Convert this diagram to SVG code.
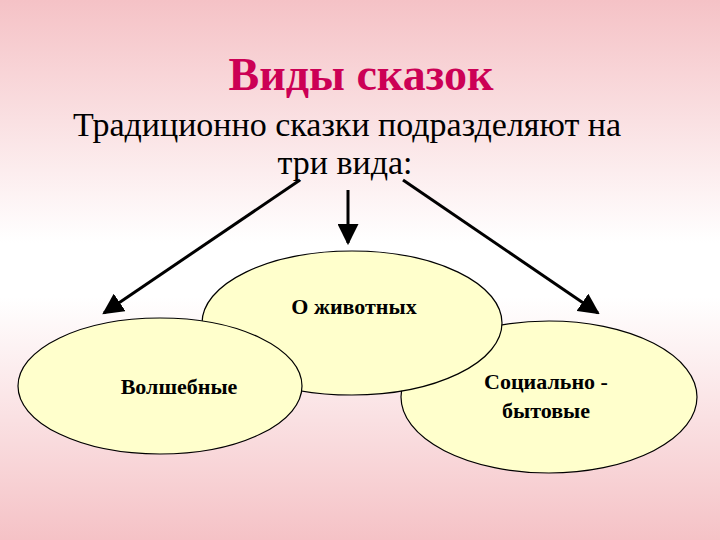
<svg xmlns="http://www.w3.org/2000/svg" width="720" height="540" viewBox="0 0 720 540">
<defs>
<linearGradient id="bg" x1="0" y1="0" x2="0" y2="1">
<stop offset="0" stop-color="#f5c2c6"/><stop offset="0.45" stop-color="#ffffff"/><stop offset="0.55" stop-color="#ffffff"/><stop offset="1" stop-color="#f5c2c6"/>
</linearGradient>
<marker id="ah" viewBox="0 0 10 10" refX="9" refY="5" markerWidth="7" markerHeight="7" orient="auto"><path d="M0,0L10,5L0,10z" fill="#000"/></marker>
<style>
.t{font-family:"Liberation Serif",serif;text-anchor:middle}
.n{fill:#ffffcc;stroke:#000;stroke-width:1.2}
.c{stroke:#000;stroke-width:3;fill:none;marker-end:url(#ah)}
</style>
</defs>
<rect width="720" height="540" fill="url(#bg)"/>
<text class="t" x="361" y="90" font-size="46" font-weight="bold" fill="#cc0055">Виды сказок</text>
<text class="t" x="347" y="136" font-size="34">Традиционно сказки подразделяют на</text>
<text class="t" x="345" y="174" font-size="34">три вида:</text>
<g id="connectors">
<line class="c" x1="300" y1="180" x2="104" y2="313"/>
<line class="c" x1="348" y1="190" x2="348" y2="243"/>
<line class="c" x1="403" y1="180" x2="598" y2="313"/>
</g>
<g id="n3"><ellipse class="n" cx="549" cy="397" rx="148" ry="76"/>
<text class="t" x="546" y="389" font-size="22" font-weight="bold">Социально -</text>
<text class="t" x="546" y="418" font-size="22" font-weight="bold">бытовые</text></g>
<g id="n2"><ellipse class="n" cx="352" cy="323" rx="150" ry="72"/>
<text class="t" x="354" y="314" font-size="22" font-weight="bold">О животных</text></g>
<g id="n1"><ellipse class="n" cx="160" cy="386" rx="142" ry="68"/>
<text class="t" x="179" y="394" font-size="22" font-weight="bold">Волшебные</text></g>
</svg>
